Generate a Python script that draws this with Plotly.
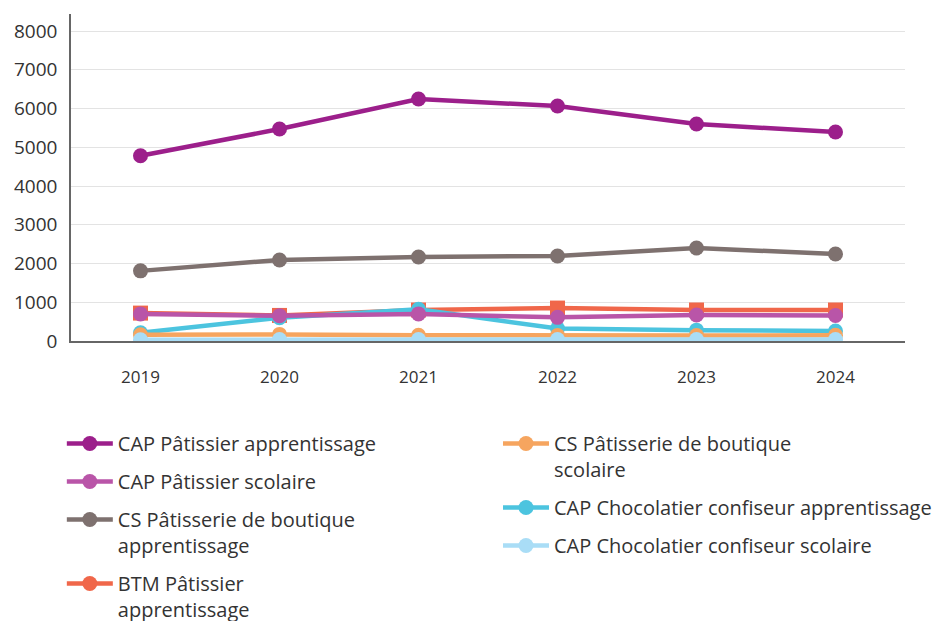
import plotly.graph_objects as go

years = ["2019", "2020", "2021", "2022", "2023", "2024"]

cap_pat_app = [4780, 5470, 6245, 6065, 5600, 5395]
cap_pat_sco = [700, 650, 700, 610, 670, 660]
cs_bout_app = [1810, 2090, 2170, 2195, 2400, 2245]
btm_pat_app = [720, 660, 800, 850, 800, 800]
cs_bout_sco = [160, 170, 150, 140, 140, 150]
cap_choc_app = [210, 600, 820, 320, 280, 260]
cap_choc_sco = [30, 40, 40, 40, 40, 40]

FONT = "Open Sans"
TEXT = "#333333"

# (name, values, colour, legend, rank, marker symbol) in drawing order
series = [
    ("CS Pâtisserie de boutique<br>apprentissage", cs_bout_app, "#7e716f", "legend", 3, "circle"),
    ("BTM Pâtissier<br>apprentissage", btm_pat_app, "#f0674a", "legend", 4, "square"),
    ("CAP Chocolatier confiseur apprentissage", cap_choc_app, "#4cc4df", "legend2", 2, "circle"),
    ("CS Pâtisserie de boutique<br>scolaire", cs_bout_sco, "#f6a55f", "legend2", 1, "circle"),
    ("CAP Chocolatier confiseur scolaire", cap_choc_sco, "#a9ddf6", "legend2", 3, "circle"),
    ("CAP Pâtissier scolaire", cap_pat_sco, "#b955a8", "legend", 2, "circle"),
    ("CAP Pâtissier apprentissage", cap_pat_app, "#9c1f8b", "legend", 1, "circle"),
]

fig = go.Figure()
for i, (name, vals, color, leg, rank, symbol) in enumerate(series):
    fig.add_trace(
        go.Scatter(
            x=years,
            y=vals,
            mode="lines+markers",
            name=name,
            line=dict(color=color, width=4.5),
            marker=dict(color=color, size=15, symbol=symbol),
            legend=leg,
            legendrank=rank,
            legendgroup=f"g{i}",
            showlegend=(symbol == "circle"),
        )
    )
    if symbol != "circle":
        # legend shows a round marker
        fig.add_trace(
            go.Scatter(
                x=[None],
                y=[None],
                mode="lines+markers",
                name=name,
                line=dict(color=color, width=4.5),
                marker=dict(color=color, size=15),
                legend=leg,
                legendrank=rank,
                legendgroup=f"g{i}",
            )
        )

legend_style = dict(
    font=dict(family=FONT, size=20, color=TEXT),
    bgcolor="rgba(0,0,0,0)",
    traceorder="grouped",
    itemwidth=46,
    tracegroupgap=9,
    valign="top",
    xanchor="left",
    yanchor="top",
    yref="container",
    y=0.330,
)

fig.update_layout(
    width=945,
    height=621,
    paper_bgcolor="white",
    plot_bgcolor="white",
    margin=dict(l=61, r=48, t=6, b=288),
    font=dict(family=FONT, size=17, color=TEXT),
    xaxis=dict(
        type="category",
        range=[-0.5, 5.5],
        showgrid=False,
        showline=True,
        linecolor="#666666",
        linewidth=1.5,
        ticks="",
        ticklabelstandoff=20,
        tickfont=dict(size=17, color=TEXT),
    ),
    yaxis=dict(
        range=[0, 8440],
        tickvals=[0, 1000, 2000, 3000, 4000, 5000, 6000, 7000, 8000],
        showgrid=True,
        gridcolor="#e3e3e3",
        gridwidth=1.2,
        showline=True,
        linecolor="#666666",
        linewidth=1.5,
        zeroline=False,
        ticks="",
        ticklabelstandoff=8,
        tickformat="d",
        tickfont=dict(size=19, color=TEXT),
    ),
    legend=dict(x=-0.011, **legend_style),
    legend2=dict(x=0.512, **legend_style),
)

fig.write_html("out.html")
